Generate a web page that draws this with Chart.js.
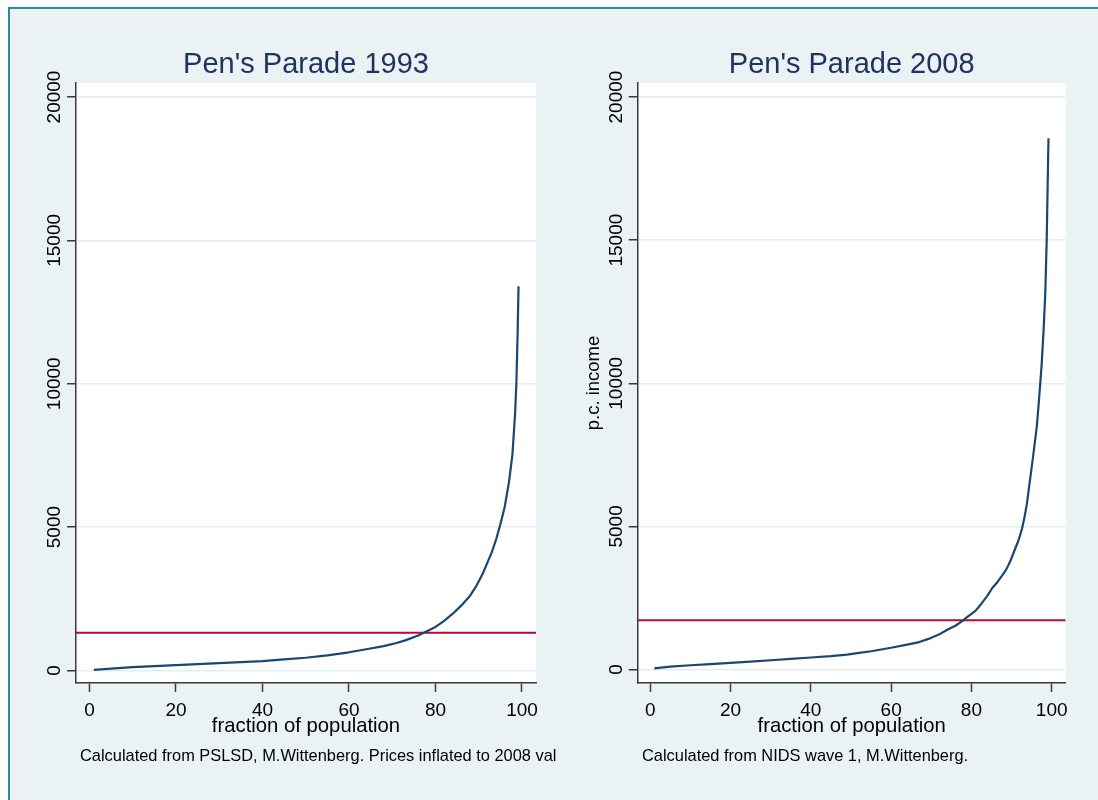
<!DOCTYPE html>
<html>
<head>
<meta charset="utf-8">
<script src="https://cdn.jsdelivr.net/npm/chart.js@4/dist/chart.umd.min.js"></script>
<style>
  html, body { margin: 0; padding: 0; background: #fff; }
  body { width: 1098px; height: 800px; position: relative; overflow: hidden; }
  #frame { position: absolute; left: 8px; top: 7px; width: 1200px; height: 900px;
           border: 2px solid #2a8c9b; background: #eaf2f3; }
  .panel { position: absolute; top: 0; height: 800px; }
  #left { left: 0; width: 556px; }
  #right { left: 556px; width: 542px; }
</style>
</head>
<body>
<div id="frame"></div>
<div class="panel" id="left"><canvas id="c1" width="556" height="800"></canvas></div>
<div class="panel" id="right"><canvas id="c2" width="542" height="800"></canvas></div>
<script>
// fraction of population (percentile) and p.c. income
const pct1993 = [1, 5, 10, 15, 20, 25, 30, 35, 40, 45, 50, 55, 60, 64, 68, 71, 73, 76, 78, 80,
                 82, 84, 86, 88, 89.5, 91, 92, 93, 94, 95, 96, 97, 97.8, 98.4, 98.7, 99, 99.2];
const inc1993 = [20, 65, 115, 150, 188, 222, 258, 293, 330, 385, 445, 525, 635, 740, 850, 960, 1050, 1220, 1370, 1520,
                 1730, 1980, 2270, 2610, 2960, 3400, 3760, 4120, 4560, 5100, 5700, 6580, 7550, 8950, 10000, 11800, 13400];

const pct2008 = [1, 5, 10, 15, 20, 25, 30, 35, 40, 45, 49, 52, 55, 60, 64, 67, 69.3, 72.3, 74, 76, 77.7, 79,
                 81, 82.5, 84, 85.2, 86.5, 87.6, 88.7, 89.7, 90.7, 91.7, 92.6, 93.2, 93.8, 94.6, 95.4, 96.3, 96.8,
                 97.5, 98, 98.4, 98.75, 99.2];
const inc2008 = [40, 100, 150, 190, 230, 278, 325, 372, 420, 470, 524, 580, 640, 760, 870, 960, 1070, 1254, 1390, 1530, 1690, 1840,
                 2050, 2300, 2580, 2850, 3060, 3276, 3500, 3790, 4150, 4500, 4915, 5300, 5769, 6624, 7479, 8500, 9350,
                 10650, 11900, 13150, 14950, 18560];

// horizontal reference line (mean p.c. income)
const mean1993 = 1320;
const mean2008 = 1720;

const xTicks = [0, 20, 40, 60, 80, 100];
const yTicks = [0, 5000, 10000, 15000, 20000];

const FONT = '"Liberation Sans", Arial, sans-serif';
const NAVY = '#1a476f';
const RED = '#c10534';
const AXIS = '#3a3a3a';
const GRID = '#e4edf0';

function pairs(xs, ys) {
  return xs.map((x, i) => ({ x: x, y: ys[i] }));
}

// white plot region, rotated y tick labels and the source note
function stataLook(note, noteX) {
  return {
    id: 'stataLook',
    beforeDraw(chart) {
      const { ctx, chartArea: a } = chart;
      ctx.save();
      ctx.fillStyle = '#fff';
      ctx.fillRect(a.left, a.top, a.right - a.left, a.bottom - a.top);
      ctx.restore();
    },
    afterDraw(chart) {
      const { ctx, chartArea: a } = chart;
      const y = chart.scales.y;
      ctx.save();
      ctx.fillStyle = '#000';
      ctx.font = '19px ' + FONT;
      ctx.textAlign = 'center';
      ctx.textBaseline = 'alphabetic';
      y.ticks.forEach(t => {
        ctx.save();
        ctx.translate(a.left - 16, y.getPixelForValue(t.value));
        ctx.rotate(-Math.PI / 2);
        ctx.fillText(String(t.value), 0, 0);
        ctx.restore();
      });
      ctx.font = '16.4px ' + FONT;
      ctx.textAlign = 'left';
      ctx.fillText(note, noteX, 761);
      ctx.restore();
    }
  };
}

function makeChart(id, opts) {
  return new Chart(document.getElementById(id), {
    type: 'line',
    data: {
      datasets: [
        { data: pairs(opts.pct, opts.inc), borderColor: NAVY, borderWidth: 2.2,
          pointRadius: 0, tension: 0, fill: false, borderJoinStyle: 'round' },
        { data: [{ x: opts.xMin, y: opts.mean }, { x: opts.xMax, y: opts.mean }],
          borderColor: RED, borderWidth: 2, pointRadius: 0, fill: false }
      ]
    },
    options: {
      responsive: false,
      animation: false,
      devicePixelRatio: 1,
      layout: { padding: { left: 0, right: opts.padRight, top: 50.5, bottom: 61 } },
      plugins: {
        legend: { display: false },
        tooltip: { enabled: false },
        title: {
          display: true, text: opts.title, color: '#1f3461', fullSize: false,
          font: { family: FONT, size: 29, weight: 'normal', lineHeight: 1 },
          padding: { top: 0, bottom: 3.5 }
        }
      },
      scales: {
        x: {
          type: 'linear', min: opts.xMin, max: opts.xMax,
          afterBuildTicks: s => { s.ticks = xTicks.map(v => ({ value: v })); },
          afterFit: s => { s.height = 56; },
          grid: { drawOnChartArea: false, drawTicks: true, tickLength: 9, tickColor: AXIS, tickWidth: 1.5 },
          border: { color: AXIS, width: 1.5 },
          ticks: { color: '#000', font: { family: FONT, size: 19 }, padding: 7, maxRotation: 0, autoSkip: false },
          title: { display: true, text: 'fraction of population', color: '#000',
                   font: { family: FONT, size: 20.3 }, padding: { top: 0, bottom: 0 } }
        },
        y: {
          type: 'linear', min: opts.yMin, max: opts.yMax,
          afterBuildTicks: s => { s.ticks = yTicks.map(v => ({ value: v })); },
          afterFit: s => { s.width = opts.yWidth; },
          grid: { color: GRID, lineWidth: 1.5, drawTicks: true, tickLength: 9, tickColor: AXIS, tickWidth: 1.5 },
          border: { color: AXIS, width: 1.5 },
          ticks: { display: false },
          title: { display: !!opts.yTitle, text: opts.yTitle || '', color: '#000',
                   font: { family: FONT, size: 18.5 }, padding: { top: 27 } }
        }
      }
    },
    plugins: [stataLook(opts.note, opts.noteX)]
  });
}

makeChart('c1', {
  pct: pct1993, inc: inc1993, mean: mean1993, title: "Pen's Parade 1993",
  xMin: -3.12, xMax: 103.24, yMin: -436, yMax: 20488,
  yWidth: 76, padRight: 20, yTitle: null,
  note: 'Calculated from PSLSD, M.Wittenberg. Prices inflated to 2008 values.', noteX: 80
});

makeChart('c2', {
  pct: pct2008, inc: inc2008, mean: mean2008, title: "Pen's Parade 2008",
  xMin: -3.14, xMax: 103.49, yMin: -470, yMax: 20490,
  yWidth: 81.7, padRight: 32.3, yTitle: 'p.c. income',
  note: 'Calculated from NIDS wave 1, M.Wittenberg.', noteX: 86
});
</script>
</body>
</html>
